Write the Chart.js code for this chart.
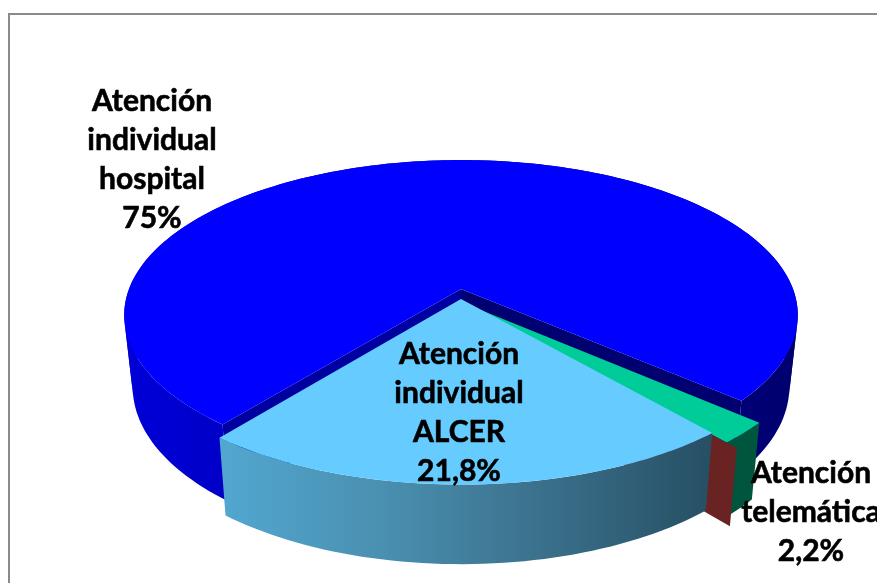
<!DOCTYPE html>
<html>
<head>
<meta charset="utf-8">
<title>Atención</title>
<script src="https://cdn.jsdelivr.net/npm/chart.js@4"></script>
<style>
  html, body { margin: 0; padding: 0; background: #fff; overflow: hidden; }
  #wrap { position: relative; width: 877px; height: 583px; }
  #frame { position: absolute; left: 8px; top: 13px; right: 0; bottom: 0; border-left: 2px solid #8a8a8a; border-top: 2px solid #8a8a8a; }
  canvas { position: absolute; left: 0; top: 0; }
</style>
</head>
<body>
<div id="wrap">
  <div id="frame"></div>
  <canvas id="pie3d" width="877" height="583"></canvas>
</div>
<script>
// Data
const categories = ['Atención individual hospital', 'Atención telemática', 'Atención individual ALCER'];
const values = [75, 2.2, 21.8];
const valueLabels = ['75%', '2,2%', '21,8%'];
const topColors = ['#0000ff', '#00cc99', '#66ccff'];

const rad = Math.PI / 180;

// Tilted plane of the pie: unit circle point to page pixels, z=1 is the bottom face
function project(u, v, z) {
  const w = 1 - 0.168 * v;
  const x = 461 + 332 * u / w;
  const y = 289 + 150.6 * v / w;
  return {
    x: 461 + (x - 461) * (1 - 0.025 * z),
    y: y + z * (70 + 9 * v)
  };
}

// How far each slice is pulled out of the pie, in radius units
const explode = [[0, 0], [0.031, 0.112], [0, 0.066]];

function rim(i, angle, r, z) {
  return project(r * Math.cos(angle) + explode[i][0], r * Math.sin(angle) + explode[i][1], z);
}

function addQuad(path, a, b, c, d) {
  path.moveTo(a.x, a.y);
  path.lineTo(b.x, b.y);
  path.lineTo(c.x, c.y);
  path.lineTo(d.x, d.y);
  path.closePath();
}

function radialWall(ctx, i, angle, r0, r1, fill) {
  const path = new Path2D();
  addQuad(path, rim(i, angle, r0, 0), rim(i, angle, r1, 0), rim(i, angle, r1, 1), rim(i, angle, r0, 1));
  ctx.fillStyle = fill;
  ctx.fill(path);
}

// Quads go in one path per facing so neighbours leave no seam
function outerWall(ctx, i, start, end, fill) {
  const steps = Math.max(4, Math.ceil((end - start) / (1.5 * rad)));
  const front = new Path2D();
  const back = new Path2D();
  for (let s = 0; s < steps; s++) {
    const a0 = start + (end - start) * s / steps;
    const a1 = start + (end - start) * (s + 1) / steps;
    const p = rim(i, a0, 1, 0), q = rim(i, a1, 1, 0), r = rim(i, a1, 1, 1), t = rim(i, a0, 1, 1);
    const area = (q.x - p.x) * (t.y - p.y) - (q.y - p.y) * (t.x - p.x);
    addQuad(area > 0 ? front : back, p, q, r, t);
  }
  ctx.fillStyle = fill;
  ctx.fill(back);
  ctx.fill(front);
}

function topFace(ctx, i, start, end, fill) {
  ctx.fillStyle = fill;
  ctx.beginPath();
  const apex = rim(i, 0, 0, 0);
  ctx.moveTo(apex.x, apex.y);
  const steps = Math.ceil((end - start) / (1 * rad));
  for (let s = 0; s <= steps; s++) {
    const p = rim(i, start + (end - start) * s / steps, 1, 0);
    ctx.lineTo(p.x, p.y);
  }
  ctx.closePath();
  ctx.fill();
}

function hGradient(ctx, x0, x1, stops) {
  const g = ctx.createLinearGradient(x0, 0, x1, 0);
  stops.forEach((c, k) => g.addColorStop(k / (stops.length - 1), c));
  return g;
}

// Chart.js works out the slice angles, this plugin paints them as a tilted solid
const pie3dPlugin = {
  id: 'pie3d',
  beforeDatasetsDraw(chart) {
    const ctx = chart.ctx;
    const arcs = chart.getDatasetMeta(0).data;
    const blue = arcs[0], green = arcs[1], sky = arcs[2];

    ctx.save();
    // hospital slice, sits at the back
    radialWall(ctx, 0, blue.startAngle, 0, 1, '#0000a0');
    radialWall(ctx, 0, blue.endAngle, 0, 1, '#000070');
    outerWall(ctx, 0, blue.startAngle, blue.endAngle, hGradient(ctx, 124, 797, ['#0000d8', '#00006e']));
    topFace(ctx, 0, blue.startAngle, blue.endAngle, blue.options.backgroundColor);

    // telematic slice
    outerWall(ctx, 1, green.startAngle, green.endAngle, '#00553f');
    topFace(ctx, 1, green.startAngle, green.endAngle, green.options.backgroundColor);
    radialWall(ctx, 1, green.endAngle, 0.6, 1.035, '#692323');

    // ALCER slice in front
    outerWall(ctx, 2, sky.startAngle, sky.endAngle, hGradient(ctx, 221, 712, ['#52a7d0', '#4a8fb0', '#3a6f8a', '#264f63']));
    topFace(ctx, 2, sky.startAngle, sky.endAngle, sky.options.backgroundColor);
    ctx.restore();
    return false;
  },
  afterDraw(chart) {
    const ctx = chart.ctx;
    const blocks = [
      { x: 152, y: 101, lines: ['Atención', 'individual', 'hospital', valueLabels[0]] },
      { x: 811, y: 473, lines: ['Atención', 'telemática', valueLabels[1]] },
      { x: 459, y: 354, lines: ['Atención', 'individual', 'ALCER', valueLabels[2]] }
    ];
    ctx.save();
    ctx.fillStyle = '#000';
    ctx.strokeStyle = '#000';
    ctx.lineWidth = 0.6;
    ctx.font = 'bold 30px Lato, "Open Sans", sans-serif';
    ctx.textAlign = 'center';
    ctx.textBaseline = 'middle';
    blocks.forEach(b => {
      b.lines.forEach((line, k) => {
        ctx.fillText(line, b.x, b.y + k * 39);
        ctx.strokeText(line, b.x, b.y + k * 39);
      });
    });
    ctx.restore();
  }
};

new Chart(document.getElementById('pie3d').getContext('2d'), {
  type: 'pie',
  data: {
    labels: categories,
    datasets: [{
      data: values,
      backgroundColor: topColors,
      borderWidth: 0
    }]
  },
  options: {
    responsive: false,
    animation: false,
    rotation: 218.6,
    events: [],
    plugins: {
      legend: { display: false },
      title: { display: false },
      tooltip: { enabled: false }
    }
  },
  plugins: [pie3dPlugin]
});
</script>
</body>
</html>
